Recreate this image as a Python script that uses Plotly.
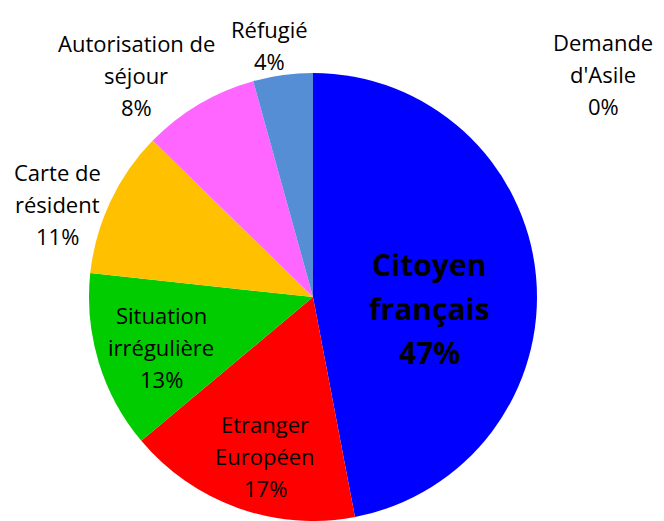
import plotly.graph_objects as go

# parts of the population by status (percent)
labels = ["Citoyen français", "Etranger Européen", "Situation irrégulière",
          "Carte de résident", "Autorisation de séjour", "Réfugié", "Demande d'Asile"]
values = [47.0, 16.9, 12.8, 10.6, 8.4, 4.3, 0.0]
colors = ["#0000FF", "#FF0000", "#00CC00", "#FFC000", "#FF66FF", "#558ED5", "#A5A5A5"]
# how each label is broken on the chart
label_lines = [["Citoyen", "français"], ["Etranger", "Européen"], ["Situation", "irrégulière"],
               ["Carte de", "résident"], ["Autorisation de", "séjour"], ["Réfugié"],
               ["Demande", "d'Asile"]]

# the page body has an 8px margin, so the figure is drawn 8px smaller
OFF = 8
W, H = 664 - OFF, 521 - OFF
total = sum(values)
pcts = [f"{round(v / total * 100)}%" for v in values]

# centre of the first text line of each label, in window pixels from top-left
label_pos = [(429, 264), (265, 424), (161, 315), (57, 172), (136, 43), (269, 29), (603, 42)]


def px(x, y):
    return (x - OFF) / W, 1 - (y - OFF) / H


fig = go.Figure(go.Pie(
    values=values, labels=labels, sort=False, direction="clockwise", rotation=0,
    marker=dict(colors=colors, line=dict(width=0)),
    textinfo="none", showlegend=False, hoverinfo="label+percent",
    domain=dict(x=[(89 - OFF) / W, (537 - OFF) / W], y=[0, 448 / H]),
))

anns = []
for i, lines in enumerate(label_lines):
    bold = i == 0
    step = 44 if bold else 32
    x0, y0 = label_pos[i]
    for k, txt in enumerate(lines + [pcts[i]]):
        ax, ay = px(x0, y0 + k * step)
        anns.append(dict(
            x=ax, y=ay, xref="paper", yref="paper",
            text=f"<b>{txt}</b>" if bold else txt, showarrow=False,
            xanchor="center", yanchor="middle",
            font=dict(family="Open Sans", size=30 if bold else 22, color="black"),
        ))

fig.update_layout(
    width=W, height=H, margin=dict(l=0, r=0, t=0, b=0),
    paper_bgcolor="white", plot_bgcolor="white", annotations=anns,
)
fig.write_html("out.html")
